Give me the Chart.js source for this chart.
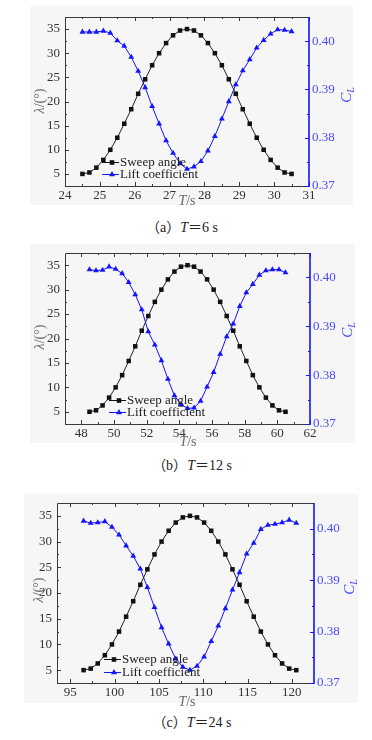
<!DOCTYPE html>
<html>
<head>
<meta charset="utf-8">
<script src="https://cdn.jsdelivr.net/npm/chart.js@4.4.1/dist/chart.umd.min.js"></script>
<style>
  body { margin: 0; background: #fff; width: 372px; height: 740px; position: relative; overflow: hidden; }
  .bg { position: absolute; background: #f6f6f6; }
  canvas { position: absolute; left: 0; }
  .cap { position: absolute; width: 120px; text-align: center; font: 14px "Liberation Serif", "Noto Sans CJK SC", serif; color: #222; white-space: nowrap; }
</style>
</head>
<body>
<div class="bg" style="left:30px;top:6px;width:323px;height:199px"></div>
<div class="bg" style="left:30px;top:244px;width:325px;height:199px"></div>
<div class="bg" style="left:24px;top:494px;width:334px;height:209px"></div>

<canvas id="chartA" width="372" height="210" style="top:0px"></canvas>
<div class="cap" style="left:122px;top:216px">（a）<i>T</i>＝6 s</div>

<canvas id="chartB" width="372" height="210" style="top:240px"></canvas>
<div class="cap" style="left:132px;top:454px">（b）<i>T</i>＝12 s</div>

<canvas id="chartC" width="372" height="220" style="top:490px"></canvas>
<div class="cap" style="left:132px;top:711px">（c）<i>T</i>＝24 s</div>

<script>
// time samples (s) of the three runs
const timeA = [24.5, 24.7, 24.9, 25.1, 25.3, 25.5, 25.7, 25.9, 26.1, 26.3, 26.5, 26.7, 26.9, 27.1, 27.3, 27.5,
               27.7, 27.9, 28.1, 28.3, 28.5, 28.7, 28.9, 29.1, 29.3, 29.5, 29.7, 29.9, 30.1, 30.3, 30.5];
const timeB = [48.5, 48.9, 49.3, 49.7, 50.1, 50.5, 50.9, 51.3, 51.7, 52.1, 52.5, 52.9, 53.3, 53.7, 54.1, 54.5,
               54.9, 55.3, 55.7, 56.1, 56.5, 56.9, 57.3, 57.7, 58.1, 58.5, 58.9, 59.3, 59.7, 60.1, 60.5];
const timeC = [96.5, 97.3, 98.1, 98.9, 99.7, 100.5, 101.3, 102.1, 102.9, 103.7, 104.5, 105.3, 106.1, 106.9, 107.7, 108.5,
               109.3, 110.1, 110.9, 111.7, 112.5, 113.3, 114.1, 114.9, 115.7, 116.5, 117.3, 118.1, 118.9, 119.7, 120.5];

// sweep angle λ (°) - reads the same in all three panels
const sweepAngle = [5.0, 5.3, 6.3, 7.9, 10.0, 12.5, 15.4, 18.4, 21.6, 24.6, 27.5, 30.0, 32.1, 33.7, 34.7, 35.0,
                    34.7, 33.7, 32.1, 30.0, 27.5, 24.6, 21.6, 18.4, 15.4, 12.5, 10.0, 7.9, 6.3, 5.3, 5.0];

// lift coefficient C_L
const liftA = [0.4019, 0.4019, 0.4019, 0.4021, 0.4017, 0.4001, 0.3990, 0.3967, 0.3938, 0.3904, 0.3865, 0.3829, 0.3794, 0.3768, 0.3747, 0.3735,
               0.3740, 0.3751, 0.3773, 0.3803, 0.3839, 0.3875, 0.3910, 0.3939, 0.3962, 0.3986, 0.4002, 0.4015, 0.4024, 0.4023, 0.4020];
const liftB = [0.4016, 0.4014, 0.4015, 0.4022, 0.4017, 0.4008, 0.3990, 0.3965, 0.3934, 0.3889, 0.3862, 0.3830, 0.3792, 0.3758, 0.3740, 0.3732,
               0.3733, 0.3747, 0.3776, 0.3806, 0.3843, 0.3879, 0.3905, 0.3941, 0.3969, 0.3986, 0.4005, 0.4014, 0.4016, 0.4016, 0.4010];
const liftC = [0.4015, 0.4011, 0.4012, 0.4014, 0.4003, 0.3988, 0.3967, 0.3947, 0.3922, 0.3886, 0.3847, 0.3808, 0.3776, 0.3747, 0.3731, 0.3725,
               0.3733, 0.3751, 0.3781, 0.3811, 0.3845, 0.3881, 0.3915, 0.3951, 0.3972, 0.3999, 0.4007, 0.4009, 0.4012, 0.4017, 0.4011];

// tick labels
const xTicksA = [24, 25, 26, 27, 28, 29, 30, 31];
const xTicksB = [48, 50, 52, 54, 56, 58, 60, 62];
const xTicksC = [95, 100, 105, 110, 115, 120];
const angleTicks = [5, 10, 15, 20, 25, 30, 35];
const liftTicks = [0.37, 0.38, 0.39, 0.40];

const serif = '"Liberation Serif", "Times New Roman", serif';
const frameColor = '#3a3a3a';
const blue = '#1414ff';
const blueText = '#4a4aff';
const titleGray = '#6a6a6a';

function pts(xs, ys) {
    return xs.map((x, i) => ({ x: x, y: ys[i] }));
}

// majors get long ticks, half-way points short ones
function tickList(scale, majors) {
    const step = majors[1] - majors[0];
    const out = majors.map(v => [v, 4]);
    for (let i = -1; i < majors.length; i++) {
        const v = majors[0] + (i + 0.5) * step;
        if (v > scale.min + 1e-9 && v < scale.max - 1e-9) out.push([v, 2]);
    }
    return out;
}

// draws pieces of text one after the other, centred on (x, y)
function drawRich(ctx, parts, x, y, rot, color) {
    ctx.save();
    ctx.translate(x, y);
    ctx.rotate(rot);
    ctx.fillStyle = color;
    ctx.textBaseline = 'middle';
    ctx.textAlign = 'left';
    let total = 0;
    parts.forEach(p => {
        ctx.font = (p.it ? 'italic ' : '') + p.size + 'px ' + serif;
        p.w = ctx.measureText(p.t).width;
        total += p.w;
    });
    let cx = -total / 2;
    parts.forEach(p => {
        ctx.font = (p.it ? 'italic ' : '') + p.size + 'px ' + serif;
        ctx.fillText(p.t, cx, p.dy || 0);
        cx += p.w;
    });
    ctx.restore();
}

function marker(ctx, style, x, y, color) {
    ctx.fillStyle = color;
    ctx.beginPath();
    if (style === 'rect') {
        ctx.rect(x - 2.3, y - 2.3, 4.6, 4.6);
    } else {
        ctx.moveTo(x, y - 3.4);
        ctx.lineTo(x + 3, y + 1.8);
        ctx.lineTo(x - 3, y + 1.8);
        ctx.closePath();
    }
    ctx.fill();
}

const framePlugin = {
    id: 'frame',
    afterDraw(chart, args, o) {
        const { ctx, chartArea: a, scales } = chart;
        ctx.save();

        // inward ticks + dark frame
        ctx.lineWidth = 1;
        ctx.strokeStyle = frameColor;
        ctx.beginPath();
        tickList(scales.x, o.xTicks).forEach(([v, len]) => {
            const px = Math.round(scales.x.getPixelForValue(v)) + 0.5;
            ctx.moveTo(px, a.bottom); ctx.lineTo(px, a.bottom - len);
            ctx.moveTo(px, a.top); ctx.lineTo(px, a.top + len);
        });
        tickList(scales.y, angleTicks).forEach(([v, len]) => {
            const py = Math.round(scales.y.getPixelForValue(v)) + 0.5;
            ctx.moveTo(a.left, py); ctx.lineTo(a.left + len, py);
        });
        ctx.moveTo(a.left + 0.5, a.bottom);
        ctx.lineTo(a.left + 0.5, a.top + 0.5);
        ctx.lineTo(a.right, a.top + 0.5);
        ctx.moveTo(a.left, a.bottom + 0.5);
        ctx.lineTo(a.right, a.bottom + 0.5);
        ctx.stroke();

        // right axis in blue
        ctx.strokeStyle = blue;
        ctx.beginPath();
        tickList(scales.y2, liftTicks).forEach(([v, len]) => {
            const py = Math.round(scales.y2.getPixelForValue(v)) + 0.5;
            ctx.moveTo(a.right, py); ctx.lineTo(a.right - len, py);
        });
        ctx.stroke();
        ctx.lineWidth = 1.6;
        ctx.beginPath();
        ctx.moveTo(a.right, a.top);
        ctx.lineTo(a.right, a.bottom + 1);
        ctx.stroke();

        // axis titles
        const t = o.titles;
        drawRich(ctx, [{ t: 'λ', it: true, size: 14 }, { t: '/(°)', size: 14 }], t.left[0], t.left[1], -Math.PI / 2, titleGray);
        drawRich(ctx, [{ t: 'C', it: true, size: 15 }, { t: 'L', it: true, size: 10, dy: 4 }], t.right[0], t.right[1], -Math.PI / 2, blueText);
        drawRich(ctx, [{ t: 'T', it: true, size: 14 }, { t: '/s', size: 14 }], t.bottom[0], t.bottom[1], 0, titleGray);

        // legend inside the plot
        const lg = o.legend;
        const items = [
            { label: 'Sweep angle', color: '#111', style: 'rect' },
            { label: 'Lift coefficient', color: blue, style: 'tri' },
        ];
        items.forEach((it, i) => {
            const ly = lg.y[i];
            ctx.strokeStyle = it.color;
            ctx.lineWidth = 1;
            ctx.beginPath();
            ctx.moveTo(lg.x, ly + 0.5);
            ctx.lineTo(lg.x + 17, ly + 0.5);
            ctx.stroke();
            marker(ctx, it.style, lg.x + 10, ly + 0.5, it.color);
            ctx.fillStyle = '#222';
            ctx.font = '13px ' + serif;
            ctx.textBaseline = 'middle';
            ctx.textAlign = 'left';
            ctx.fillText(it.label, lg.x + 18, ly + 1);
        });
        ctx.restore();
    },
};

function makeChart(id, time, lift, xTicks, xMin, xMax, box) {
    const canvas = document.getElementById(id);
    const h = canvas.height;
    const tickFont = { family: serif, size: 13 };
    const noGrid = { display: false, drawTicks: false, tickLength: 0 };

    return new Chart(canvas.getContext('2d'), {
        type: 'line',
        data: {
            datasets: [
                {
                    label: 'Sweep angle',
                    data: pts(time, sweepAngle),
                    yAxisID: 'y',
                    borderColor: '#222',
                    backgroundColor: '#111',
                    borderWidth: 1,
                    pointStyle: 'rect',
                    pointRadius: 3.2,
                    pointBorderWidth: 0,
                },
                {
                    label: 'Lift coefficient',
                    data: pts(time, lift),
                    yAxisID: 'y2',
                    borderColor: blue,
                    backgroundColor: blue,
                    borderWidth: 1,
                    pointStyle: 'triangle',
                    pointRadius: 3.4,
                    pointBorderWidth: 0,
                },
            ],
        },
        options: {
            responsive: false,
            animation: false,
            layout: { padding: { top: box.top, left: 0, right: 0, bottom: 0 } },
            plugins: {
                legend: { display: false },
                tooltip: { enabled: false },
                frame: { xTicks: xTicks, titles: box.titles, legend: box.legend },
            },
            scales: {
                x: {
                    type: 'linear',
                    min: xMin,
                    max: xMax,
                    grid: noGrid,
                    border: { display: false },
                    afterBuildTicks: s => { s.ticks = xTicks.map(v => ({ value: v })); },
                    afterFit: s => { s.height = h - box.bottom; },
                    ticks: { font: tickFont, color: '#333', padding: 2, maxRotation: 0, autoSkip: false },
                },
                y: {
                    position: 'left',
                    min: 2.5,
                    max: 37.5,
                    grid: noGrid,
                    border: { display: false },
                    afterBuildTicks: s => { s.ticks = angleTicks.map(v => ({ value: v })); },
                    afterFit: s => { s.width = box.left; },
                    ticks: { font: tickFont, color: '#333', padding: 5 },
                },
                y2: {
                    position: 'right',
                    min: 0.37,
                    max: 0.405,
                    grid: noGrid,
                    border: { display: false },
                    afterBuildTicks: s => { s.ticks = liftTicks.map(v => ({ value: v })); },
                    afterFit: s => { s.width = canvas.width - box.right; },
                    ticks: { font: tickFont, color: blueText, padding: 3, callback: v => v.toFixed(2) },
                },
            },
        },
        plugins: [framePlugin],
    });
}

makeChart('chartA', timeA, liftA, xTicksA, 24, 31, {
    left: 65, top: 17, right: 309, bottom: 186,
    titles: { left: [40, 101], right: [347, 95], bottom: [187, 201] },
    legend: { x: 102, y: [162, 174] },
});
makeChart('chartB', timeB, liftB, xTicksB, 47, 62, {
    left: 65, top: 13, right: 310, bottom: 184,
    titles: { left: [40, 97], right: [348, 90], bottom: [188, 202] },
    legend: { x: 109, y: [160, 172] },
});
makeChart('chartC', timeC, liftC, xTicksC, 93.5, 122.5, {
    left: 57, top: 13, right: 314, bottom: 193,
    titles: { left: [39, 100], right: [350, 97], bottom: [187, 212] },
    legend: { x: 104, y: [169, 182] },
});
</script>
</body>
</html>
